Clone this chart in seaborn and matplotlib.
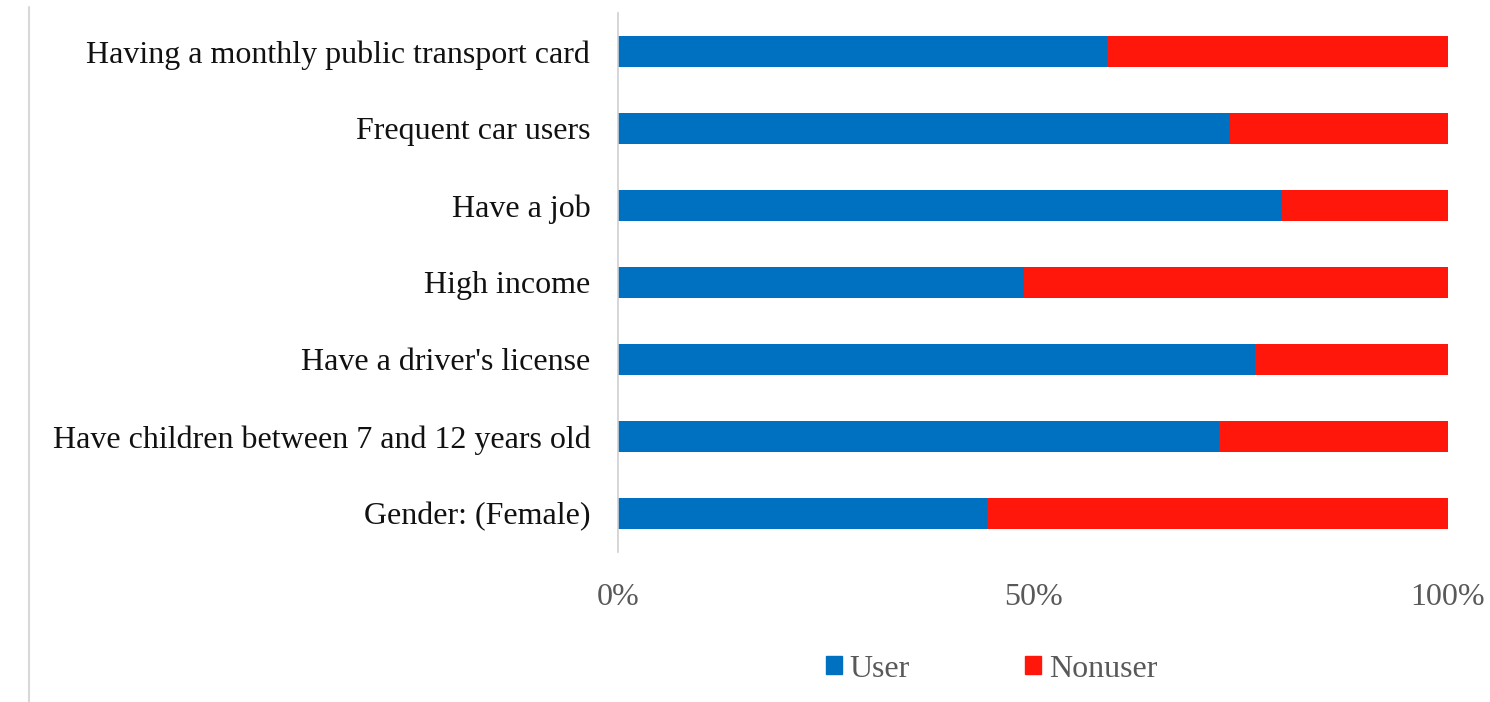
import pandas as pd
import seaborn as sns
import matplotlib.pyplot as plt
from matplotlib.lines import Line2D
from matplotlib.patches import Patch

# data (share of users, %)
categories = ['Having a monthly public transport card', 'Frequent car users', 'Have a job',
              'High income', "Have a driver's license",
              'Have children between 7 and 12 years old', 'Gender: (Female)']
user_pct = [58.9, 73.7, 80.0, 48.9, 76.7, 72.4, 44.5]
nonuser_pct = [100 - u for u in user_pct]

df = pd.DataFrame({'cat': categories, 'user': user_pct, 'nonuser': nonuser_pct})
df['total'] = df['user'] + df['nonuser']

blue = '#0070C0'
red = '#FF170C'

sns.set_style('white')
plt.rcParams['font.family'] = ['Liberation Serif', 'DejaVu Serif']

fig = plt.figure(figsize=(14.9, 7.02), dpi=100)
ax = fig.add_axes([0.4148, 0.2137, 0.5570, 0.7678])

sns.barplot(x='total', y='cat', data=df, color=red, width=0.4, ax=ax, orient='h',
            saturation=1, linewidth=0)
sns.barplot(x='user', y='cat', data=df, color=blue, width=0.4, ax=ax, orient='h',
            saturation=1, linewidth=0)

ax.set(xlim=(0, 100), ylim=(6.5, -0.5), xlabel='', ylabel='')
ax.set_xticks([0, 50, 100])
ax.set_xticklabels(['0%', '50%', '100%'])
ax.tick_params(axis='x', length=0, pad=22, labelsize=23, labelcolor='#595959')
ax.tick_params(axis='y', length=0, pad=20, labelsize=23, labelcolor='#111111')
for s in ['top', 'right', 'bottom']:
    ax.spines[s].set_visible(False)
ax.spines['left'].set_color('#D0D0D0')
ax.spines['left'].set_linewidth(1.2)

handles = [Patch(color=blue, label='User'), Patch(color=red, label='Nonuser')]
fig.legend(handles=handles, loc='center', bbox_to_anchor=(0.6654, 0.047), ncol=2, frameon=False,
           fontsize=23, labelcolor='#595959', handlelength=0.5, handleheight=0.5,
           handletextpad=0.25, columnspacing=3.6)

# thin frame line at the far left of the image
fig.add_artist(Line2D([0.0195, 0.0195], [0.0, 0.99], color='#D8D8D8', lw=1.5))

fig.savefig('out.png', dpi=100)
plt.close()
